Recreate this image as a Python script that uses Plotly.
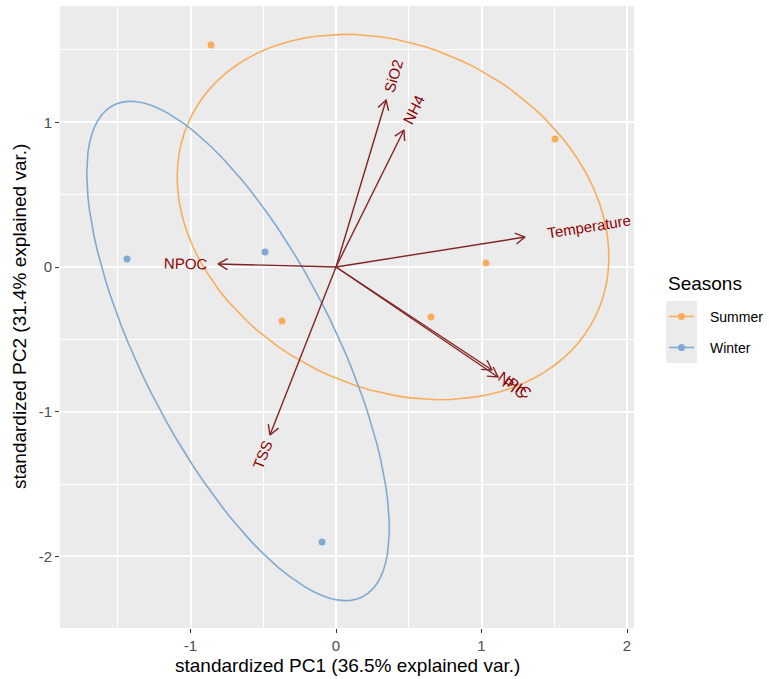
import numpy as np
import plotly.graph_objects as go

# ---- data ----
summer_pc1 = [-0.859, 1.505, 1.031, 0.653, -0.371]
summer_pc2 = [1.534, 0.885, 0.028, -0.346, -0.373]
winter_pc1 = [-1.436, -0.488, -0.096]
winter_pc2 = [0.055, 0.104, -1.900]

var_names = ["SiO2", "NH4", "Temperature", "NPOC", "TSS", "NPIC", "PIC"]
var_pc1 = [0.344, 0.467, 1.299, -0.811, -0.454, 1.072, 1.113]
var_pc2 = [1.154, 0.947, 0.207, 0.021, -1.161, -0.712, -0.760]

x_ticks = [-1, 0, 1, 2]
y_ticks = [-2, -1, 0, 1]

season_names = ["Summer", "Winter"]
season_colors = ["#F9AD5B", "#7EAAD3"]

# ---- layout geometry ----
W, H = 769, 679
ML, MR, MT, MB = 60, 135, 6, 51
XR = [-1.897, 2.048]
YR = [-2.495, 1.804]
PW, PH = W - ML - MR, H - MT - MB
sx = PW / (XR[1] - XR[0])
sy = PH / (YR[1] - YR[0])

def px_to_paper_x(px):
    return (px - ML) / PW

def px_to_paper_y(py):
    return 1 - (py - MT) / PH

arrow_col = "#832424"
label_col = "#8B0000"
FONT = "Liberation Sans, Arial, sans-serif"

fig = go.Figure()

# ellipses (68% normal ellipse, as ggbiplot computes it)
def ellipse(xs, ys, prob=0.68, n=100):
    pts = np.column_stack([xs, ys])
    mu = pts.mean(axis=0)
    sigma = np.cov(pts.T)
    ed = np.sqrt(-2 * np.log(1 - prob))
    t = np.linspace(-np.pi, np.pi, n)
    circle = np.column_stack([np.cos(t), np.sin(t)])
    chol = np.linalg.cholesky(sigma).T
    e = circle @ chol * ed + mu
    return e[:, 0], e[:, 1]

groups = [(summer_pc1, summer_pc2), (winter_pc1, winter_pc2)]
for (gx, gy), name, col in zip(groups, season_names, season_colors):
    ex, ey = ellipse(gx, gy)
    fig.add_trace(go.Scatter(x=ex, y=ey, mode="lines", line=dict(color=col, width=1.6),
                             showlegend=False, hoverinfo="skip"))

# arrows (shaft + open head)
head_len = 11
head_ang = np.deg2rad(30)
for vx, vy in zip(var_pc1, var_pc2):
    fig.add_trace(go.Scatter(x=[0, vx], y=[0, vy], mode="lines",
                             line=dict(color=arrow_col, width=1.4), showlegend=False, hoverinfo="skip"))
    dx, dy = vx * sx, vy * sy
    a = np.arctan2(dy, dx)
    hx, hy = [], []
    for s in (1, -1):
        b = a + np.pi + s * head_ang
        hx += [vx + head_len * np.cos(b) / sx]
        hy += [vy + head_len * np.sin(b) / sy]
    fig.add_trace(go.Scatter(x=[hx[0], vx, hx[1]], y=[hy[0], vy, hy[1]], mode="lines",
                             line=dict(color=arrow_col, width=1.4), showlegend=False, hoverinfo="skip"))

# points
for (gx, gy), name, col in zip(groups, season_names, season_colors):
    fig.add_trace(go.Scatter(x=gx, y=gy, mode="markers", marker=dict(color=col, size=7),
                             showlegend=False, name=name))

# variable labels
label_w = {"SiO2": 33, "NH4": 30, "Temperature": 86, "NPOC": 43, "TSS": 29, "NPIC": 36, "PIC": 26}
anns = []
for nm, vx, vy in zip(var_names, var_pc1, var_pc2):
    ang = np.degrees(np.arctan(vy / vx))
    a = np.arctan2(vy * sy, vx * sx)
    off = 0.75 * label_w[nm]
    anns.append(dict(x=vx, y=vy, xref="x", yref="y", text=nm, showarrow=False,
                     textangle=-ang, xshift=off * np.cos(a), yshift=off * np.sin(a),
                     font=dict(family=FONT, size=15, color=label_col),
                     xanchor="center", yanchor="middle"))

# axis titles as paper annotations
anns.append(dict(x=px_to_paper_x(ML + PW / 2), y=px_to_paper_y(665), xref="paper", yref="paper",
                 text="standardized PC1 (36.5% explained var.)", showarrow=False,
                 font=dict(family=FONT, size=19, color="black"), xanchor="center", yanchor="middle"))
anns.append(dict(x=px_to_paper_x(19), y=px_to_paper_y(MT + PH / 2), xref="paper", yref="paper",
                 text="standardized PC2 (31.4% explained var.)", showarrow=False, textangle=-90,
                 font=dict(family=FONT, size=19, color="black"), xanchor="center", yanchor="middle"))

# ---- hand-drawn legend (ggplot style) ----
leg_left = 666
key_w, key_h = 31, 31
key_top = 301
anns.append(dict(x=px_to_paper_x(leg_left), y=px_to_paper_y(283), xref="paper", yref="paper",
                 text="Seasons", showarrow=False, font=dict(family=FONT, size=19, color="black"),
                 xanchor="left", yanchor="middle"))
shapes = [dict(type="rect", xref="paper", yref="paper",
               x0=px_to_paper_x(leg_left), x1=px_to_paper_x(leg_left + key_w),
               y0=px_to_paper_y(key_top + 2 * key_h), y1=px_to_paper_y(key_top),
               fillcolor="#EBEBEB", line=dict(width=0), layer="below")]
for i, (name, col) in enumerate(zip(season_names, season_colors)):
    cy = key_top + key_h * (i + 0.5)
    cx = leg_left + key_w / 2
    shapes.append(dict(type="line", xref="paper", yref="paper",
                       x0=px_to_paper_x(leg_left + 3), x1=px_to_paper_x(leg_left + key_w - 3),
                       y0=px_to_paper_y(cy), y1=px_to_paper_y(cy),
                       line=dict(color=col, width=1.6)))
    shapes.append(dict(type="circle", xref="paper", yref="paper",
                       x0=px_to_paper_x(cx - 3.5), x1=px_to_paper_x(cx + 3.5),
                       y0=px_to_paper_y(cy + 3.5), y1=px_to_paper_y(cy - 3.5),
                       fillcolor=col, line=dict(width=0)))
    anns.append(dict(x=px_to_paper_x(708), y=px_to_paper_y(cy), xref="paper", yref="paper",
                     text=name, showarrow=False, font=dict(family=FONT, size=14, color="black"),
                     xanchor="left", yanchor="middle"))

fig.update_layout(
    width=W, height=H,
    margin=dict(l=ML, r=MR, t=MT, b=MB, autoexpand=False),
    paper_bgcolor="white",
    plot_bgcolor="#EBEBEB",
    font=dict(family=FONT, color="#4D4D4D"),
    annotations=anns,
    shapes=shapes,
    showlegend=False,
    hovermode=False,
    xaxis=dict(range=XR, tickvals=x_ticks, ticktext=[str(v) for v in x_ticks],
               showgrid=True, gridcolor="white", gridwidth=1.5, zeroline=False,
               ticks="outside", ticklen=4, tickcolor="#333333", tickwidth=1,
               tickfont=dict(size=15, color="#4D4D4D"), automargin=False,
               minor=dict(dtick=0.5, tick0=0, showgrid=True, gridcolor="white", gridwidth=0.7, ticks=""),
               showline=False),
    yaxis=dict(range=YR, tickvals=y_ticks, ticktext=[str(v) for v in y_ticks],
               showgrid=True, gridcolor="white", gridwidth=1.5, zeroline=False,
               ticks="outside", ticklen=4, tickcolor="#333333", tickwidth=1,
               tickfont=dict(size=15, color="#4D4D4D"), automargin=False,
               minor=dict(dtick=0.5, tick0=0, showgrid=True, gridcolor="white", gridwidth=0.7, ticks=""),
               showline=False),
)

fig.write_html("out.html", config={"displayModeBar": False},
               post_script="document.body.style.margin='0';")
